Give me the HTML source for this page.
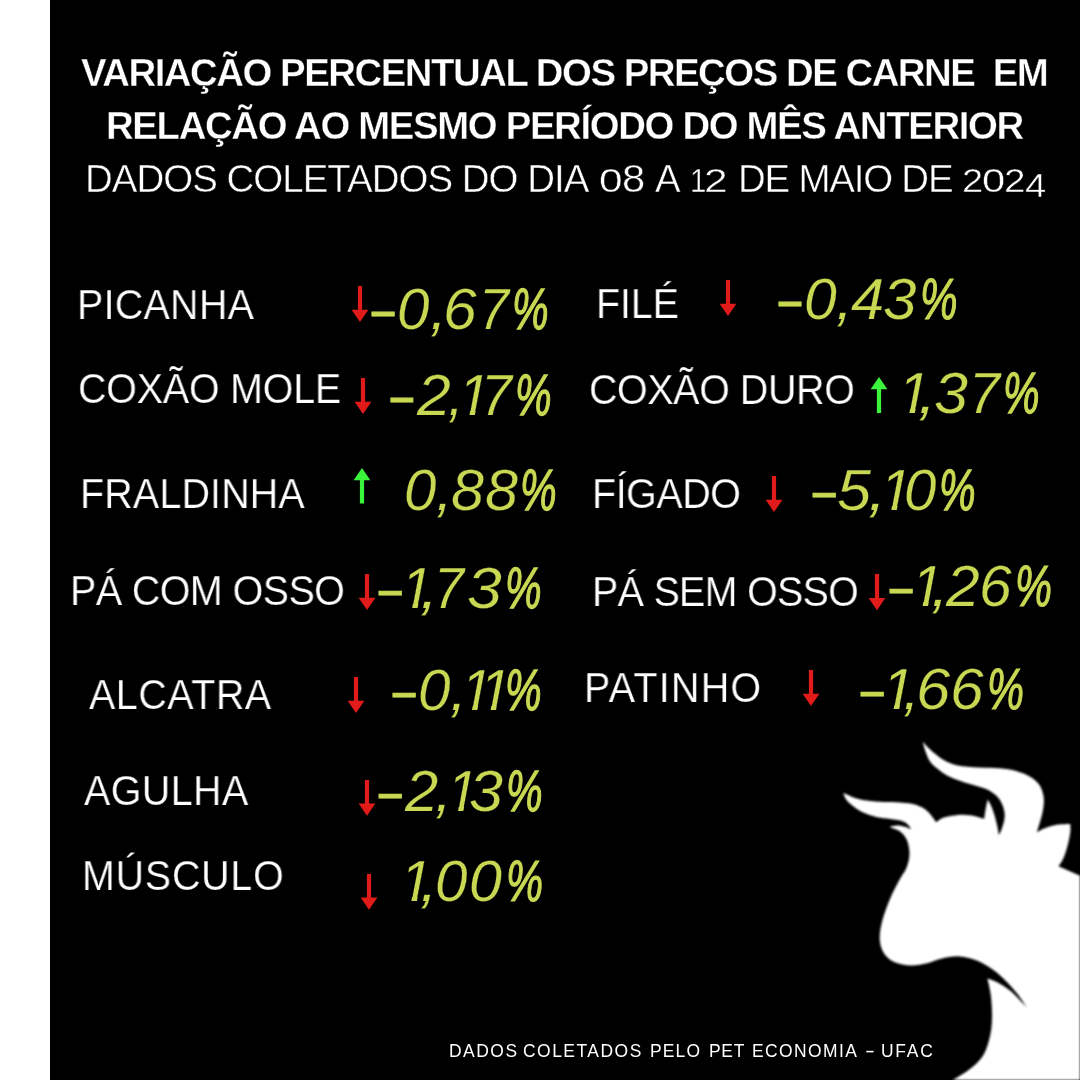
<!DOCTYPE html>
<html lang="pt-BR"><head><meta charset="utf-8"><title>Variação percentual dos preços de carne</title>
<style>
html,body{margin:0;padding:0;}
body{width:1080px;height:1080px;overflow:hidden;background:#000;position:relative;font-family:"Liberation Sans",sans-serif;}
.strip{position:absolute;left:0;top:0;width:50.3px;height:1080px;background:#fff;}
.t{position:absolute;line-height:1;white-space:pre;will-change:transform;transform-origin:0 50%;}
.p{font-style:italic;color:#c8d852;-webkit-text-stroke:0.25px #000;}
.g{display:inline-block;transform-origin:0 50%;line-height:1;}
.m{position:relative;top:3.7px;-webkit-text-stroke:.4px #c8d852;}
.o{clip-path:polygon(-.1em -.2em,.7em -.2em,.7em .715em,.315em .715em,.2905em .84em,.1946em .84em,.2188em .715em,-.1em .715em);}
.a{position:absolute;overflow:visible;}
.bull{position:absolute;left:0;top:0;filter:blur(.9px);}
</style></head><body>
<div class="strip"></div>
<svg class="bull" width="1080" height="1080" viewBox="0 0 1080 1080"><path fill="#fff" d="M843.3,792.8 C844.7,793.4 848.5,795.5 851.7,796.7 C855.0,797.9 858.2,799.2 862.8,800.0 C867.4,800.8 873.8,801.3 879.4,801.7 C885.0,802.1 890.5,801.8 896.1,802.2 C901.7,802.6 908.3,803.0 912.8,803.9 C917.2,804.8 920.0,806.2 922.8,807.8 C925.6,809.4 927.2,810.9 929.4,813.3 C931.6,815.7 935.1,820.7 936.2,822.2 C937.5,821.4 940.3,818.8 943.9,817.6 C947.5,816.4 953.2,815.2 957.8,814.9 C962.4,814.6 967.3,814.9 971.7,815.6 C976.1,816.3 982.1,818.4 984.2,819.0 C984.4,817.4 985.0,812.7 985.6,809.5 C986.2,806.3 987.3,801.2 987.6,799.6 C988.2,800.6 989.9,803.1 991.1,805.8 C992.3,808.5 993.6,812.1 994.6,815.6 C995.6,819.1 996.7,823.5 997.4,826.7 C998.1,829.9 998.5,833.6 998.8,835.0 C999.2,834.1 1000.6,831.9 1001.5,829.4 C1002.4,826.9 1003.8,822.7 1004.3,819.7 C1004.8,816.7 1004.8,814.2 1004.3,811.4 C1003.8,808.6 1002.8,805.5 1001.5,803.0 C1000.2,800.5 998.9,798.3 996.7,796.1 C994.5,793.9 991.8,791.6 988.3,789.9 C984.8,788.2 980.2,787.1 975.8,785.7 C971.4,784.3 966.5,783.1 961.9,781.5 C957.3,779.9 952.2,778.2 948.0,776.0 C943.8,773.8 939.9,770.7 936.9,768.3 C933.9,765.9 931.9,764.2 930.0,761.4 C928.1,758.6 926.7,754.8 925.5,751.5 C924.3,748.2 923.1,743.2 922.6,741.6 C923.4,742.5 925.5,745.0 927.5,747.0 C929.5,749.0 931.7,751.0 934.5,753.3 C937.3,755.5 940.6,758.5 944.5,760.5 C948.4,762.5 952.1,764.4 957.8,765.6 C963.5,766.8 971.7,767.2 978.6,767.6 C985.5,768.0 993.1,767.7 999.4,768.3 C1005.6,768.9 1011.0,769.7 1016.1,771.1 C1021.2,772.5 1026.3,774.6 1030.0,776.7 C1033.7,778.8 1036.2,781.1 1038.3,783.6 C1040.4,786.1 1041.6,788.9 1042.5,791.9 C1043.4,794.9 1044.0,797.8 1043.9,801.7 C1043.8,805.7 1043.0,810.5 1041.8,815.6 C1040.6,820.7 1037.7,829.4 1036.9,832.2 C1038.3,831.5 1041.8,829.3 1045.3,828.0 C1048.8,826.7 1053.6,825.3 1057.8,824.6 C1062.0,823.9 1068.2,824.0 1070.3,823.9 C1070.3,825.3 1070.8,828.5 1070.3,832.2 C1069.8,835.9 1068.7,841.7 1067.5,846.1 C1066.3,850.5 1064.8,855.2 1063.3,858.6 C1061.8,862.0 1059.3,865.0 1058.5,866.2 L1081.0,876.3 L1081.0,1081.0 L951.0,1081.0 C954.0,1079.1 963.6,1074.0 968.9,1069.8 C974.2,1065.6 979.3,1061.3 982.8,1055.9 C986.3,1050.5 988.2,1043.6 989.7,1037.4 C991.2,1031.2 991.8,1025.8 992.0,1018.9 C992.2,1011.9 991.7,1002.5 990.9,995.7 C990.1,989.0 988.0,981.3 987.4,978.4 C989.0,979.0 992.8,979.8 996.7,981.9 C1000.6,984.0 1005.6,986.8 1010.6,991.0 C1015.6,995.2 1024.1,1004.6 1026.8,1007.3 C1024.8,1004.6 1020.0,996.8 1015.0,991.0 C1010.0,985.2 1002.9,977.6 996.7,972.6 C990.5,967.6 984.2,963.7 978.0,961.0 C971.8,958.3 965.8,956.8 959.6,956.4 C953.4,956.0 946.4,957.6 941.0,958.7 C935.6,959.9 932.2,962.1 927.2,963.3 C922.2,964.4 916.4,965.8 911.0,965.6 C905.6,965.4 899.2,964.1 894.8,962.2 C890.4,960.3 886.9,957.7 884.4,954.0 C881.9,950.3 880.2,945.6 879.8,940.2 C879.4,934.8 880.3,928.7 882.0,921.7 C883.7,914.8 887.3,905.5 890.2,898.5 C893.1,891.5 896.7,885.1 899.4,880.0 C902.1,874.9 904.7,872.1 906.4,868.0 C908.1,863.9 909.1,859.5 909.4,855.6 C909.7,851.7 909.0,847.5 908.3,844.4 C907.6,841.2 906.5,838.9 905.0,836.7 C903.5,834.5 901.4,832.5 899.4,831.1 C897.4,829.7 894.5,829.0 892.8,828.3 C891.1,827.6 890.0,827.0 889.4,826.7 C890.7,826.5 894.8,825.4 897.2,825.4 C899.6,825.4 901.6,825.9 903.9,826.5 C906.2,827.1 910.0,828.8 911.2,829.2 C910.5,828.3 909.0,825.3 907.2,823.9 C905.4,822.5 903.4,821.4 900.6,820.6 C897.8,819.8 894.5,819.5 890.6,818.9 C886.7,818.3 881.7,818.2 877.2,817.2 C872.8,816.2 867.8,814.5 863.9,812.8 C860.0,811.0 856.9,808.9 853.9,806.7 C850.9,804.5 847.9,801.7 846.1,799.4 C844.3,797.1 843.8,793.9 843.3,792.8 Z"/></svg>
<span id="h1" class="t" style="left:81.22px;top:54.02px;font-size:38.37px;color:#ffffff;-webkit-text-stroke:0.4px #000;font-weight:bold;letter-spacing:-1.484px;">VARIAÇÃO PERCENTUAL DOS PREÇOS DE CARNE  EM</span>
<span id="h2" class="t" style="left:106.24px;top:106.72px;font-size:38.37px;color:#ffffff;-webkit-text-stroke:0.4px #000;font-weight:bold;letter-spacing:-1.354px;">RELAÇÃO AO MESMO PERÍODO DO MÊS ANTERIOR</span>
<span id="h3a" class="t" style="left:85.18px;top:159.98px;font-size:38.44px;color:#ffffff;-webkit-text-stroke:0.45px #000;letter-spacing:-0.957px;">DADOS COLETADOS DO DIA</span>
<span id="d1" class="t" style="left:599.45px;top:159.98px;font-size:38.44px;color:#ffffff;-webkit-text-stroke:0.45px #000;"><span class="g" style="width:23.19px;font-size:33.07px;transform:scaleX(1.283);">0</span><span class="g" style="width:23.22px;transform:scaleX(1.086);">8</span></span>
<span id="h3b" class="t" style="left:654.80px;top:159.98px;font-size:38.44px;color:#ffffff;-webkit-text-stroke:0.45px #000;">A</span>
<span id="d2" class="t" style="left:689.96px;top:159.98px;font-size:38.44px;color:#ffffff;-webkit-text-stroke:0.45px #000;"><span class="g" style="width:13.62px;font-size:33.07px;transform:scaleX(0.891);">1</span><span class="g" style="width:23.66px;font-size:33.07px;transform:scaleX(1.286);">2</span></span>
<span id="h3c" class="t" style="left:738.18px;top:159.98px;font-size:38.44px;color:#ffffff;-webkit-text-stroke:0.45px #000;letter-spacing:-1.197px;">DE MAIO DE</span>
<span id="d3" class="t" style="left:961.93px;top:159.98px;font-size:38.44px;color:#ffffff;-webkit-text-stroke:0.45px #000;"><span class="g" style="width:20.35px;font-size:33.07px;transform:scaleX(1.150);">2</span><span class="g" style="width:22.11px;font-size:33.07px;transform:scaleX(1.263);">0</span><span class="g" style="width:20.17px;font-size:33.07px;transform:scaleX(1.170);">2</span><span class="g" style="width:21.21px;font-size:33.07px;transform:scaleX(1.153);position:relative;top:5.2px;">4</span></span>
<span id="l1" class="t" style="left:76.74px;top:283.73px;font-size:41.93px;color:#ffffff;-webkit-text-stroke:0.25px #000;letter-spacing:0.314px;transform:scaleX(.94);">PICANHA</span>
<span id="p1" class="t p" style="left:368.95px;top:282.10px;font-size:56.73px;"><span class="g m" style="width:28.38px;transform:scaleX(0.813);-webkit-text-stroke:0.86px #c8d852;">−</span><span class="g" style="width:32.24px;transform:scaleX(1.029);">0</span><span class="g" style="width:13.59px;transform:scaleX(1.064);">,</span><span class="g" style="width:36.14px;transform:scaleX(1.067);">6</span><span class="g" style="width:32.67px;transform:scaleX(0.949);">7</span><span class="g" style="width:36.58px;transform:scaleX(0.725);-webkit-text-stroke:1.26px #c8d852;">%</span></span>
<span id="r1" class="t" style="left:595.74px;top:282.63px;font-size:41.93px;color:#ffffff;-webkit-text-stroke:0.25px #000;letter-spacing:-0.067px;transform:scaleX(.94);">FILÉ</span>
<span id="q1" class="t p" style="left:775.86px;top:272.00px;font-size:56.73px;"><span class="g m" style="width:27.75px;transform:scaleX(0.809);-webkit-text-stroke:0.88px #c8d852;">−</span><span class="g" style="width:31.76px;transform:scaleX(1.036);">0</span><span class="g" style="width:15.11px;transform:scaleX(1.064);">,</span><span class="g" style="width:32.37px;transform:scaleX(1.055);">4</span><span class="g" style="width:36.84px;transform:scaleX(1.062);">3</span><span class="g" style="width:37.51px;transform:scaleX(0.743);-webkit-text-stroke:1.18px #c8d852;">%</span></span>
<span id="l2" class="t" style="left:78.31px;top:367.63px;font-size:41.93px;color:#ffffff;-webkit-text-stroke:0.25px #000;letter-spacing:-0.200px;transform:scaleX(.94);">COXÃO MOLE</span>
<span id="p2" class="t p" style="left:388.28px;top:367.60px;font-size:56.73px;"><span class="g m" style="width:28.95px;transform:scaleX(0.805);-webkit-text-stroke:0.89px #c8d852;">−</span><span class="g" style="width:30.84px;transform:scaleX(1.071);">2</span><span class="g" style="width:10.49px;transform:scaleX(0.988);">,</span><span class="g o" style="width:22.28px;">1</span><span class="g" style="width:34.45px;transform:scaleX(0.979);">7</span><span class="g" style="width:36.58px;transform:scaleX(0.725);-webkit-text-stroke:1.26px #c8d852;">%</span></span>
<span id="r2" class="t" style="left:589.31px;top:368.53px;font-size:41.93px;color:#ffffff;-webkit-text-stroke:0.25px #000;letter-spacing:-0.415px;transform:scaleX(.94);">COXÃO DURO</span>
<span id="q2" class="t p" style="left:898.25px;top:365.70px;font-size:56.73px;"><span class="g o" style="width:20.41px;transform:scaleX(1.016);">1</span><span class="g" style="width:15.58px;transform:scaleX(1.165);">,</span><span class="g" style="width:34.87px;transform:scaleX(1.076);">3</span><span class="g" style="width:34.58px;transform:scaleX(0.983);">7</span><span class="g" style="width:36.47px;transform:scaleX(0.723);-webkit-text-stroke:1.27px #c8d852;">%</span></span>
<span id="l3" class="t" style="left:79.74px;top:473.03px;font-size:41.93px;color:#ffffff;-webkit-text-stroke:0.25px #000;letter-spacing:0.181px;transform:scaleX(.94);">FRALDINHA</span>
<span id="p3" class="t p" style="left:404.04px;top:463.10px;font-size:56.73px;"><span class="g" style="width:32.25px;transform:scaleX(1.026);">0</span><span class="g" style="width:14.52px;transform:scaleX(1.051);">,</span><span class="g" style="width:34.20px;transform:scaleX(1.045);">8</span><span class="g" style="width:35.27px;transform:scaleX(1.045);">8</span><span class="g" style="width:36.58px;transform:scaleX(0.725);-webkit-text-stroke:1.26px #c8d852;">%</span></span>
<span id="r3" class="t" style="left:592.24px;top:473.33px;font-size:41.93px;color:#ffffff;-webkit-text-stroke:0.25px #000;letter-spacing:-0.464px;transform:scaleX(.94);">FÍGADO</span>
<span id="q3" class="t p" style="left:810.21px;top:463.40px;font-size:56.73px;"><span class="g m" style="width:27.48px;transform:scaleX(0.824);-webkit-text-stroke:0.81px #c8d852;">−</span><span class="g" style="width:30.97px;transform:scaleX(1.077);">5</span><span class="g" style="width:11.44px;transform:scaleX(1.165);">,</span><span class="g o" style="width:23.94px;transform:scaleX(1.010);">1</span><span class="g" style="width:35.43px;transform:scaleX(1.026);">0</span><span class="g" style="width:36.58px;transform:scaleX(0.725);-webkit-text-stroke:1.26px #c8d852;">%</span></span>
<span id="l4" class="t" style="left:69.74px;top:570.43px;font-size:41.93px;color:#ffffff;-webkit-text-stroke:0.25px #000;letter-spacing:-0.573px;transform:scaleX(.94);">PÁ COM OSSO</span>
<span id="p4" class="t p" style="left:376.11px;top:560.60px;font-size:56.73px;"><span class="g m" style="width:24.94px;transform:scaleX(0.824);-webkit-text-stroke:0.81px #c8d852;">−</span><span class="g o" style="width:19.33px;">1</span><span class="g" style="width:13.93px;transform:scaleX(1.153);">,</span><span class="g" style="width:33.29px;transform:scaleX(0.949);">7</span><span class="g" style="width:37.68px;transform:scaleX(1.103);">3</span><span class="g" style="width:36.58px;transform:scaleX(0.725);-webkit-text-stroke:1.26px #c8d852;">%</span></span>
<span id="r4" class="t" style="left:592.24px;top:570.73px;font-size:41.93px;color:#ffffff;-webkit-text-stroke:0.25px #000;letter-spacing:-0.729px;transform:scaleX(.94);">PÁ SEM OSSO</span>
<span id="q4" class="t p" style="left:886.64px;top:558.70px;font-size:56.73px;"><span class="g m" style="width:24.41px;transform:scaleX(0.816);-webkit-text-stroke:0.84px #c8d852;">−</span><span class="g o" style="width:19.67px;">1</span><span class="g" style="width:15.30px;transform:scaleX(1.115);">,</span><span class="g" style="width:32.25px;transform:scaleX(1.068);">2</span><span class="g" style="width:36.67px;transform:scaleX(1.035);">6</span><span class="g" style="width:36.93px;transform:scaleX(0.732);-webkit-text-stroke:1.23px #c8d852;">%</span></span>
<span id="l5" class="t" style="left:89.35px;top:673.83px;font-size:41.93px;color:#ffffff;-webkit-text-stroke:0.25px #000;letter-spacing:0.582px;transform:scaleX(.94);">ALCATRA</span>
<span id="p5" class="t p" style="left:389.94px;top:663.10px;font-size:56.73px;"><span class="g m" style="width:28.20px;transform:scaleX(0.816);-webkit-text-stroke:0.84px #c8d852;">−</span><span class="g" style="width:31.94px;transform:scaleX(1.029);">0</span><span class="g" style="width:11.13px;transform:scaleX(1.064);">,</span><span class="g o" style="width:18.15px;transform:scaleX(0.984);">1</span><span class="g o" style="width:25.13px;">1</span><span class="g" style="width:36.58px;transform:scaleX(0.725);-webkit-text-stroke:1.26px #c8d852;">%</span></span>
<span id="r5" class="t" style="left:584.24px;top:667.43px;font-size:41.93px;color:#ffffff;-webkit-text-stroke:0.25px #000;letter-spacing:1.382px;transform:scaleX(.94);">PATINHO</span>
<span id="q5" class="t p" style="left:857.71px;top:662.40px;font-size:56.73px;"><span class="g m" style="width:23.88px;transform:scaleX(0.824);-webkit-text-stroke:0.81px #c8d852;">−</span><span class="g o" style="width:20.90px;transform:scaleX(1.035);">1</span><span class="g" style="width:13.12px;transform:scaleX(1.051);">,</span><span class="g" style="width:34.16px;transform:scaleX(1.085);">6</span><span class="g" style="width:36.88px;transform:scaleX(1.067);">6</span><span class="g" style="width:36.93px;transform:scaleX(0.732);-webkit-text-stroke:1.23px #c8d852;">%</span></span>
<span id="l6" class="t" style="left:84.35px;top:770.43px;font-size:41.93px;color:#ffffff;-webkit-text-stroke:0.25px #000;letter-spacing:0.479px;transform:scaleX(.94);">AGULHA</span>
<span id="p6" class="t p" style="left:375.59px;top:764.10px;font-size:56.73px;"><span class="g m" style="width:28.82px;transform:scaleX(0.827);-webkit-text-stroke:0.79px #c8d852;">−</span><span class="g" style="width:30.16px;transform:scaleX(1.055);">2</span><span class="g" style="width:11.63px;transform:scaleX(1.064);">,</span><span class="g o" style="width:22.23px;transform:scaleX(0.984);">1</span><span class="g" style="width:36.84px;transform:scaleX(1.076);">3</span><span class="g" style="width:36.58px;transform:scaleX(0.725);-webkit-text-stroke:1.26px #c8d852;">%</span></span>
<span id="l7" class="t" style="left:82.24px;top:855.43px;font-size:41.93px;color:#ffffff;-webkit-text-stroke:0.25px #000;letter-spacing:0.826px;transform:scaleX(.94);">MÚSCULO</span>
<span id="p7" class="t p" style="left:400.45px;top:854.00px;font-size:56.73px;"><span class="g o" style="width:20.27px;transform:scaleX(1.016);">1</span><span class="g" style="width:14.92px;transform:scaleX(1.115);">,</span><span class="g" style="width:33.36px;transform:scaleX(1.029);">0</span><span class="g" style="width:37.14px;transform:scaleX(1.043);">0</span><span class="g" style="width:37.04px;transform:scaleX(0.734);-webkit-text-stroke:1.22px #c8d852;">%</span></span>
<span id="f1" class="t" style="left:448.98px;top:1043.24px;font-size:17.44px;color:#ffffff;letter-spacing:1.509px;">DADOS</span>
<span id="f2" class="t" style="left:522.99px;top:1043.24px;font-size:17.44px;color:#ffffff;letter-spacing:1.505px;">COLETADOS</span>
<span id="f3" class="t" style="left:650.48px;top:1043.24px;font-size:17.44px;color:#ffffff;letter-spacing:1.162px;">PELO</span>
<span id="f4" class="t" style="left:708.98px;top:1043.24px;font-size:17.44px;color:#ffffff;letter-spacing:0.724px;">PET</span>
<span id="f5" class="t" style="left:751.98px;top:1043.24px;font-size:17.44px;color:#ffffff;letter-spacing:1.433px;">ECONOMIA</span>
<span id="f6" class="t" style="left:865.35px;top:1043.24px;font-size:17.44px;color:#ffffff;transform:scaleX(1.7);">-</span>
<span id="f7" class="t" style="left:880.81px;top:1043.24px;font-size:17.44px;color:#ffffff;letter-spacing:1.753px;">UFAC</span>
<svg class="a" style="left:348.30px;top:286.00px" width="24" height="36" viewBox="-12 0 24 36"><path d="M-2.1,0 H2.1 V23.70 H8.4 L0,36 L-8.4,23.70 H-2.1 Z" fill="#e11a1a"/></svg>
<svg class="a" style="left:350.50px;top:377.70px" width="24" height="36.1" viewBox="-12 0 24 36.1"><path d="M-2.1,0 H2.1 V23.80 H8.4 L0,36.1 L-8.4,23.80 H-2.1 Z" fill="#e11a1a"/></svg>
<svg class="a" style="left:350.30px;top:467.70px" width="24" height="35.5" viewBox="-12 0 24 35.5"><path d="M-2.1,35.5 H2.1 V12.3 H8.4 L0,0 L-8.4,12.3 H-2.1 Z" fill="#3af53c"/></svg>
<svg class="a" style="left:354.70px;top:574.20px" width="24" height="36.0" viewBox="-12 0 24 36.0"><path d="M-2.1,0 H2.1 V23.70 H8.4 L0,36.0 L-8.4,23.70 H-2.1 Z" fill="#e11a1a"/></svg>
<svg class="a" style="left:343.70px;top:677.20px" width="24" height="36.0" viewBox="-12 0 24 36.0"><path d="M-2.1,0 H2.1 V23.70 H8.4 L0,36.0 L-8.4,23.70 H-2.1 Z" fill="#e11a1a"/></svg>
<svg class="a" style="left:354.70px;top:779.80px" width="24" height="35.8" viewBox="-12 0 24 35.8"><path d="M-2.1,0 H2.1 V23.50 H8.4 L0,35.8 L-8.4,23.50 H-2.1 Z" fill="#e11a1a"/></svg>
<svg class="a" style="left:356.70px;top:873.80px" width="24" height="35.8" viewBox="-12 0 24 35.8"><path d="M-2.1,0 H2.1 V23.50 H8.4 L0,35.8 L-8.4,23.50 H-2.1 Z" fill="#e11a1a"/></svg>
<svg class="a" style="left:715.50px;top:280.40px" width="24" height="36.1" viewBox="-12 0 24 36.1"><path d="M-2.1,0 H2.1 V23.80 H8.4 L0,36.1 L-8.4,23.80 H-2.1 Z" fill="#e11a1a"/></svg>
<svg class="a" style="left:867.30px;top:377.30px" width="24" height="35.9" viewBox="-12 0 24 35.9"><path d="M-2.1,35.9 H2.1 V12.3 H8.4 L0,0 L-8.4,12.3 H-2.1 Z" fill="#3af53c"/></svg>
<svg class="a" style="left:761.50px;top:475.90px" width="24" height="36.1" viewBox="-12 0 24 36.1"><path d="M-2.1,0 H2.1 V23.80 H8.4 L0,36.1 L-8.4,23.80 H-2.1 Z" fill="#e11a1a"/></svg>
<svg class="a" style="left:865.10px;top:574.00px" width="24" height="36.3" viewBox="-12 0 24 36.3"><path d="M-2.1,0 H2.1 V24.00 H8.4 L0,36.3 L-8.4,24.00 H-2.1 Z" fill="#e11a1a"/></svg>
<svg class="a" style="left:799.00px;top:670.00px" width="24" height="36.1" viewBox="-12 0 24 36.1"><path d="M-2.1,0 H2.1 V23.80 H8.4 L0,36.1 L-8.4,23.80 H-2.1 Z" fill="#e11a1a"/></svg>
</body></html>
